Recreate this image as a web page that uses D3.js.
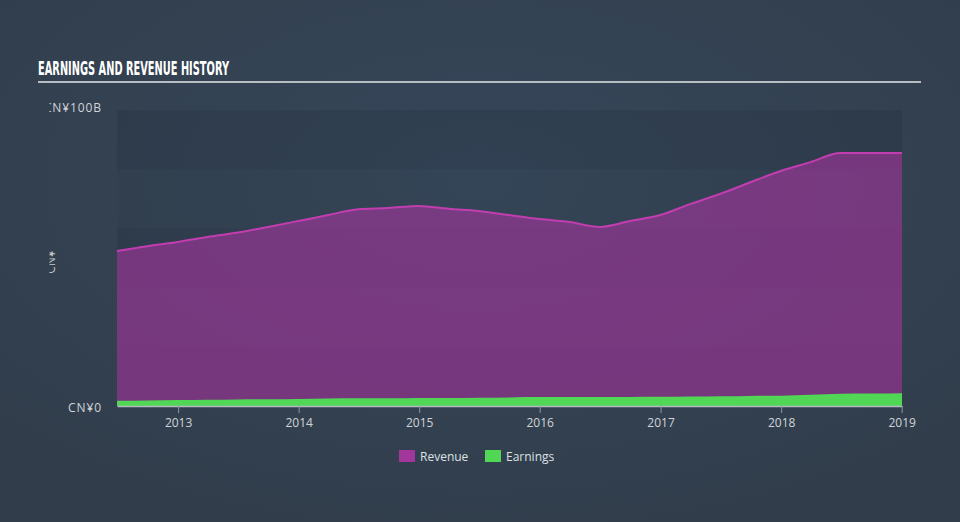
<!DOCTYPE html>
<html>
<head>
<meta charset="utf-8">
<script src="https://cdn.jsdelivr.net/npm/d3@7"></script>
<style>
html,body{margin:0;padding:0;background:#334150;}
svg{display:block;}
</style>
</head>
<body>
<svg id="chart" width="960" height="522"></svg>
<script>
// ---- data ----
const dates = ["2012-06-30","2012-09-30","2012-12-31","2013-03-31","2013-06-30","2013-09-30",
  "2013-12-31","2014-03-31","2014-06-30","2014-09-30","2014-12-31","2015-03-31","2015-06-30",
  "2015-09-30","2015-12-31","2016-03-31","2016-06-30","2016-09-30","2016-12-31","2017-03-31",
  "2017-06-30","2017-09-30","2017-12-31","2018-03-31","2018-06-30","2018-09-30","2019-01-02"];
const revenue = [52.4,54.0,55.4,57.1,58.6,60.5,62.5,64.5,66.5,66.9,67.6,66.6,65.9,
  64.5,63.2,62.2,60.5,62.5,64.5,68.2,71.6,75.6,79.4,82.4,85.5,85.5,85.5];
const earnings = [1.8,1.9,2.0,2.1,2.2,2.3,2.4,2.5,2.6,2.6,2.7,2.7,2.8,
  2.9,3.0,3.0,3.0,3.05,3.1,3.2,3.3,3.4,3.5,3.8,4.1,4.2,4.3];
const yTicks = [0,100];
const yTickLabels = ["CN¥0","CN¥100B"];
const bands = [0,20,40,60,80];
const seriesNames = ["Revenue","Earnings"];
const seriesColors = ["#a3369c","#52d655"];

const parse = d3.timeParse("%Y-%m-%d");
const data = dates.map((d,i)=>({date:parse(d), rev:revenue[i], earn:earnings[i]}));

const svg = d3.select("#chart");
const pLeft = 117, pRight = 902, pTop = 110, pBottom = 406;

const x = d3.scaleTime().domain(d3.extent(data, d=>d.date)).range([pLeft,pRight]);
const y = d3.scaleLinear().domain([0,100]).range([pBottom,pTop]);

// background glow
const defs = svg.append("defs");
const rg = defs.append("radialGradient").attr("id","bg").attr("cx","50%").attr("cy","35%").attr("r","70%");
rg.append("stop").attr("offset","0%").attr("stop-color","#36475a");
rg.append("stop").attr("offset","100%").attr("stop-color","#313d4b");
svg.append("rect").attr("width",960).attr("height",522).attr("fill","url(#bg)");

defs.append("clipPath").attr("id","lclip").append("rect")
  .attr("x",49.5).attr("y",0).attr("width",900).attr("height",522);

// title
svg.append("text").attr("x",38).attr("y",75)
  .attr("font-family","'DejaVu Sans Condensed','DejaVu Sans',sans-serif")
  .attr("font-weight","bold").attr("font-size",19)
  .attr("textLength",191).attr("lengthAdjust","spacingAndGlyphs")
  .attr("fill","#ffffff").text("EARNINGS AND REVENUE HISTORY");
svg.append("line").attr("x1",38).attr("x2",921).attr("y1",82).attr("y2",82)
  .attr("stroke","#b8bdc4").attr("stroke-width",2);

// bands
svg.append("g").selectAll("rect").data(bands).join("rect")
  .attr("x",pLeft).attr("width",pRight-pLeft)
  .attr("y",d=>y(d+20)).attr("height",d=>y(d)-y(d+20))
  .attr("fill",(d,i)=> i%2===0 ? "rgba(20,30,40,0.14)" : "rgba(20,30,40,0.05)");

// revenue area
const areaRev = d3.area().x(d=>x(d.date)).y0(y(0)).y1(d=>y(d.rev)).curve(d3.curveMonotoneX);
const lineRev = d3.line().x(d=>x(d.date)).y(d=>y(d.rev)).curve(d3.curveMonotoneX);
svg.append("path").datum(data).attr("d",areaRev).attr("fill","#a3369c").attr("fill-opacity",0.62);
svg.append("path").datum(data).attr("d",lineRev).attr("fill","none").attr("stroke","#c23db0").attr("stroke-width",2);

// earnings area
const areaEarn = d3.area().x(d=>x(d.date)).y0(y(0)).y1(d=>y(d.earn)).curve(d3.curveMonotoneX);
svg.append("path").datum(data).attr("d",areaEarn).attr("fill","#52d655");

// x axis
const xAxis = d3.axisBottom(x).ticks(d3.timeYear.every(1)).tickFormat(d3.timeFormat("%Y")).tickSize(7).tickSizeOuter(0);
const gx = svg.append("g").attr("transform",`translate(0,${pBottom})`).call(xAxis);
gx.select(".domain").attr("stroke","#b5bac1").attr("stroke-width",1.5);
gx.selectAll(".tick line").attr("stroke","#8d96a0");
gx.selectAll(".tick text").attr("fill","#d0d4d9").attr("font-size",12)
  .attr("font-family","'Open Sans','DejaVu Sans',sans-serif").attr("dy","0.9em");

// y labels
const gy = svg.append("g").attr("clip-path","url(#lclip)");
gy.selectAll("text.yt").data(yTicks).join("text").attr("class","yt")
  .attr("x",102).attr("y",d=>y(d)+(d===0?2:-2)).attr("dy","0.35em").attr("text-anchor","end")
  .attr("font-size",12).attr("letter-spacing","0.9px").attr("font-family","'Open Sans','DejaVu Sans',sans-serif")
  .attr("fill","#d0d4d9").text((d,i)=>yTickLabels[i]);
gy.append("text").attr("transform",`translate(54.5,262) rotate(-90)`).attr("text-anchor","middle")
  .attr("font-size",12).attr("font-family","'Open Sans','DejaVu Sans',sans-serif")
  .attr("fill","#c2c7cd").text("CN¥");

// legend
const lg = svg.append("g");
const lx = [399,485];
seriesNames.forEach((n,i)=>{
  lg.append("rect").attr("x",lx[i]).attr("y",450).attr("width",16).attr("height",12).attr("fill",seriesColors[i]);
  lg.append("text").attr("x",lx[i]+21).attr("y",461).attr("font-size",12)
    .attr("font-family","'Open Sans','DejaVu Sans',sans-serif").attr("fill","#dde0e4").text(n);
});
</script>
</body>
</html>
